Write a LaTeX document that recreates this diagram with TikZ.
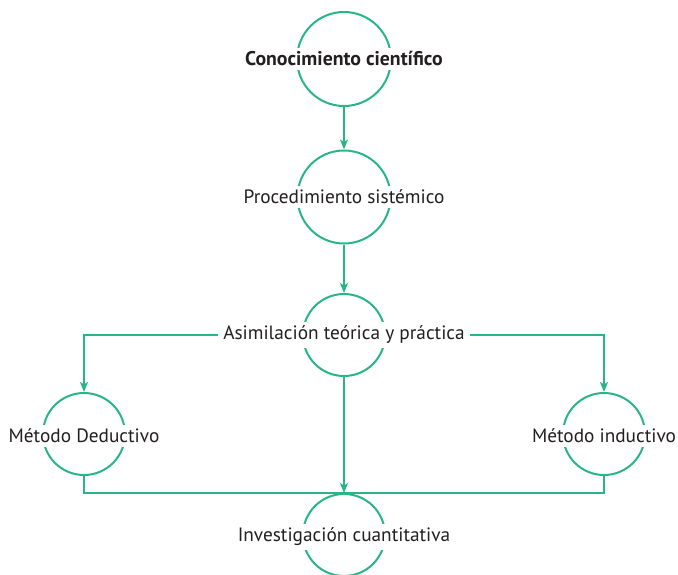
\documentclass[tikz,border=0pt]{standalone}
\usepackage{fontspec}
\setmainfont{PT Sans}
\usetikzlibrary{arrows.meta}
\definecolor{grn}{RGB}{40,181,136}
\definecolor{txt}{RGB}{35,31,32}
\tikzset{
  ring/.style={circle,draw=grn,line width=2pt,inner sep=0pt,minimum size=#1},
  lbl/.style={fill=white,text=txt,inner xsep=5pt,inner ysep=4pt,font=\fontsize{19.3}{22}\selectfont},
  conn/.style={draw=grn,line width=2pt},
  arr/.style={conn,-{Stealth[length=10pt,width=8pt,inset=2.5pt]}}
}
\begin{document}
\begin{tikzpicture}[x=1pt,y=-1pt]
\useasboundingbox (0,0) rectangle (678,574);
\node[ring=94pt] (c1) at (344,59) {};
\node[ring=93pt] (c2) at (344,197) {};
\node[ring=82pt] (c3) at (344,335) {};
\node[ring=82pt] (cd) at (84,434) {};
\node[ring=82pt] (ci) at (604,434) {};
\node[ring=82pt] (c5) at (344,535) {};
\node[lbl,font=\fontsize{19.8}{22}\selectfont\bfseries] (t1) at (344,59) {Conocimiento científico};
\node[lbl] (t2) at (344,197) {Procedimiento sistémico};
\node[lbl] (t3) at (344,335) {Asimilación teórica y práctica};
\node[lbl] (td) at (84,436) {Método Deductivo};
\node[lbl] (ti) at (604,436) {Método inductivo};
\node[lbl] (t5) at (344,537) {Investigación cuantitativa};
\draw[arr] (c1.south) -- (c2.north);
\draw[arr] (c2.south) -- (c3.north);
\draw[arr] (t3.west) -| (cd.north);
\draw[arr] (t3.east) -| (ci.north);
\draw[arr] (c3.south) -- (c5.north);
\draw[conn] (cd.south) |- (c5.north) -| (ci.south);
\end{tikzpicture}
\end{document}
